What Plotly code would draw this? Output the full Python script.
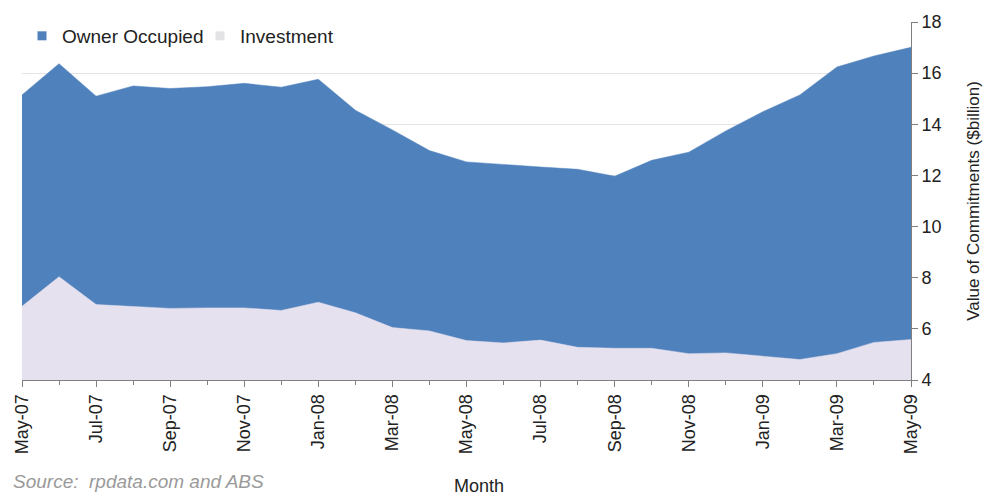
import plotly.graph_objects as go

months = ["May-07", "Jun-07", "Jul-07", "Aug-07", "Sep-07", "Oct-07", "Nov-07", "Dec-07",
          "Jan-08", "Feb-08", "Mar-08", "Apr-08", "May-08", "Jun-08", "Jul-08", "Aug-08",
          "Sep-08", "Oct-08", "Nov-08", "Dec-08", "Jan-09", "Feb-09", "Mar-09", "Apr-09", "May-09"]

owner_occupied = [15.15, 16.37, 15.1, 15.5, 15.4, 15.47, 15.6, 15.45, 15.76, 14.55, 13.78, 12.97,
                  12.53, 12.42, 12.33, 12.24, 11.97, 12.59, 12.91, 13.74, 14.49, 15.15, 16.24, 16.67, 17.01]

investment = [6.88, 8.04, 6.95, 6.88, 6.8, 6.82, 6.82, 6.72, 7.04, 6.63, 6.05, 5.92,
              5.54, 5.45, 5.56, 5.28, 5.24, 5.24, 5.03, 5.06, 4.92, 4.8, 5.03, 5.47, 5.58]

owner_color = "#4f81bd"
invest_color = "#e6e1ee"

idx = list(range(len(months)))

fig = go.Figure()
fig.add_trace(go.Scatter(x=idx, y=owner_occupied, mode="lines", fill="tozeroy",
                         fillcolor=owner_color, line=dict(color=owner_color, width=0.5),
                         showlegend=False, hoverinfo="skip"))
fig.add_trace(go.Scatter(x=idx, y=investment, mode="lines", fill="tozeroy",
                         fillcolor=invest_color, line=dict(color=invest_color, width=0.5),
                         showlegend=False, hoverinfo="skip"))
# legend entries with small square markers
fig.add_trace(go.Scatter(x=[None], y=[None], mode="markers", name="Owner Occupied",
                         marker=dict(symbol="square", size=9, color=owner_color)))
fig.add_trace(go.Scatter(x=[None], y=[None], mode="markers", name="Investment",
                         marker=dict(symbol="square", size=9, color="#e3e3e6")))

font_family = "Liberation Sans, Arial, sans-serif"

fig.update_layout(
    width=992, height=497,
    margin=dict(l=17, r=79, t=16, b=117),
    paper_bgcolor="white", plot_bgcolor="white",
    font=dict(family=font_family, size=17, color="#222222"),
    showlegend=True,
    legend=dict(orientation="h", x=0.0, y=0.961, xanchor="left", yanchor="middle",
                bgcolor="rgba(0,0,0,0)", font=dict(size=19, color="#222222"),
                itemwidth=30, entrywidth=133, entrywidthmode="pixels"),
    xaxis=dict(
        range=[0, len(months) - 1],
        tickmode="array", tickvals=idx[::2], ticktext=months[::2],
        tickangle=-90, ticks="outside", ticklen=6, tickcolor="#7f7f7f",
        minor=dict(dtick=1, tick0=0, ticks="outside", ticklen=4, tickcolor="#7f7f7f"),
        showline=True, linecolor="#7f7f7f", linewidth=1,
        showgrid=False, zeroline=False,
        tickfont=dict(size=18, color="#222222"),
    ),
    yaxis=dict(
        side="right", range=[4, 18], dtick=2, tick0=4,
        ticks="outside", ticklen=6, tickcolor="#7f7f7f",
        showline=True, linecolor="#7f7f7f", linewidth=1,
        showgrid=True, gridcolor="#e4e4e4", gridwidth=1, zeroline=False,
        tickfont=dict(size=18, color="#222222"),
        title=dict(text="Value of Commitments ($billion)", font=dict(size=17, color="#222222"),
                   standoff=26),
    ),
    annotations=[
        dict(text="Month", xref="paper", yref="paper", x=0.5145, y=-0.297, yanchor="middle",
             xanchor="center", showarrow=False, font=dict(size=18, color="#222222")),
        dict(text="<i>Source:  rpdata.com and ABS</i>", xref="paper", yref="paper",
             x=-0.012, y=-0.283, xanchor="left", yanchor="middle", showarrow=False,
             font=dict(size=19, color="#9a9a9a")),
    ],
)

fig.write_html("out.html")
